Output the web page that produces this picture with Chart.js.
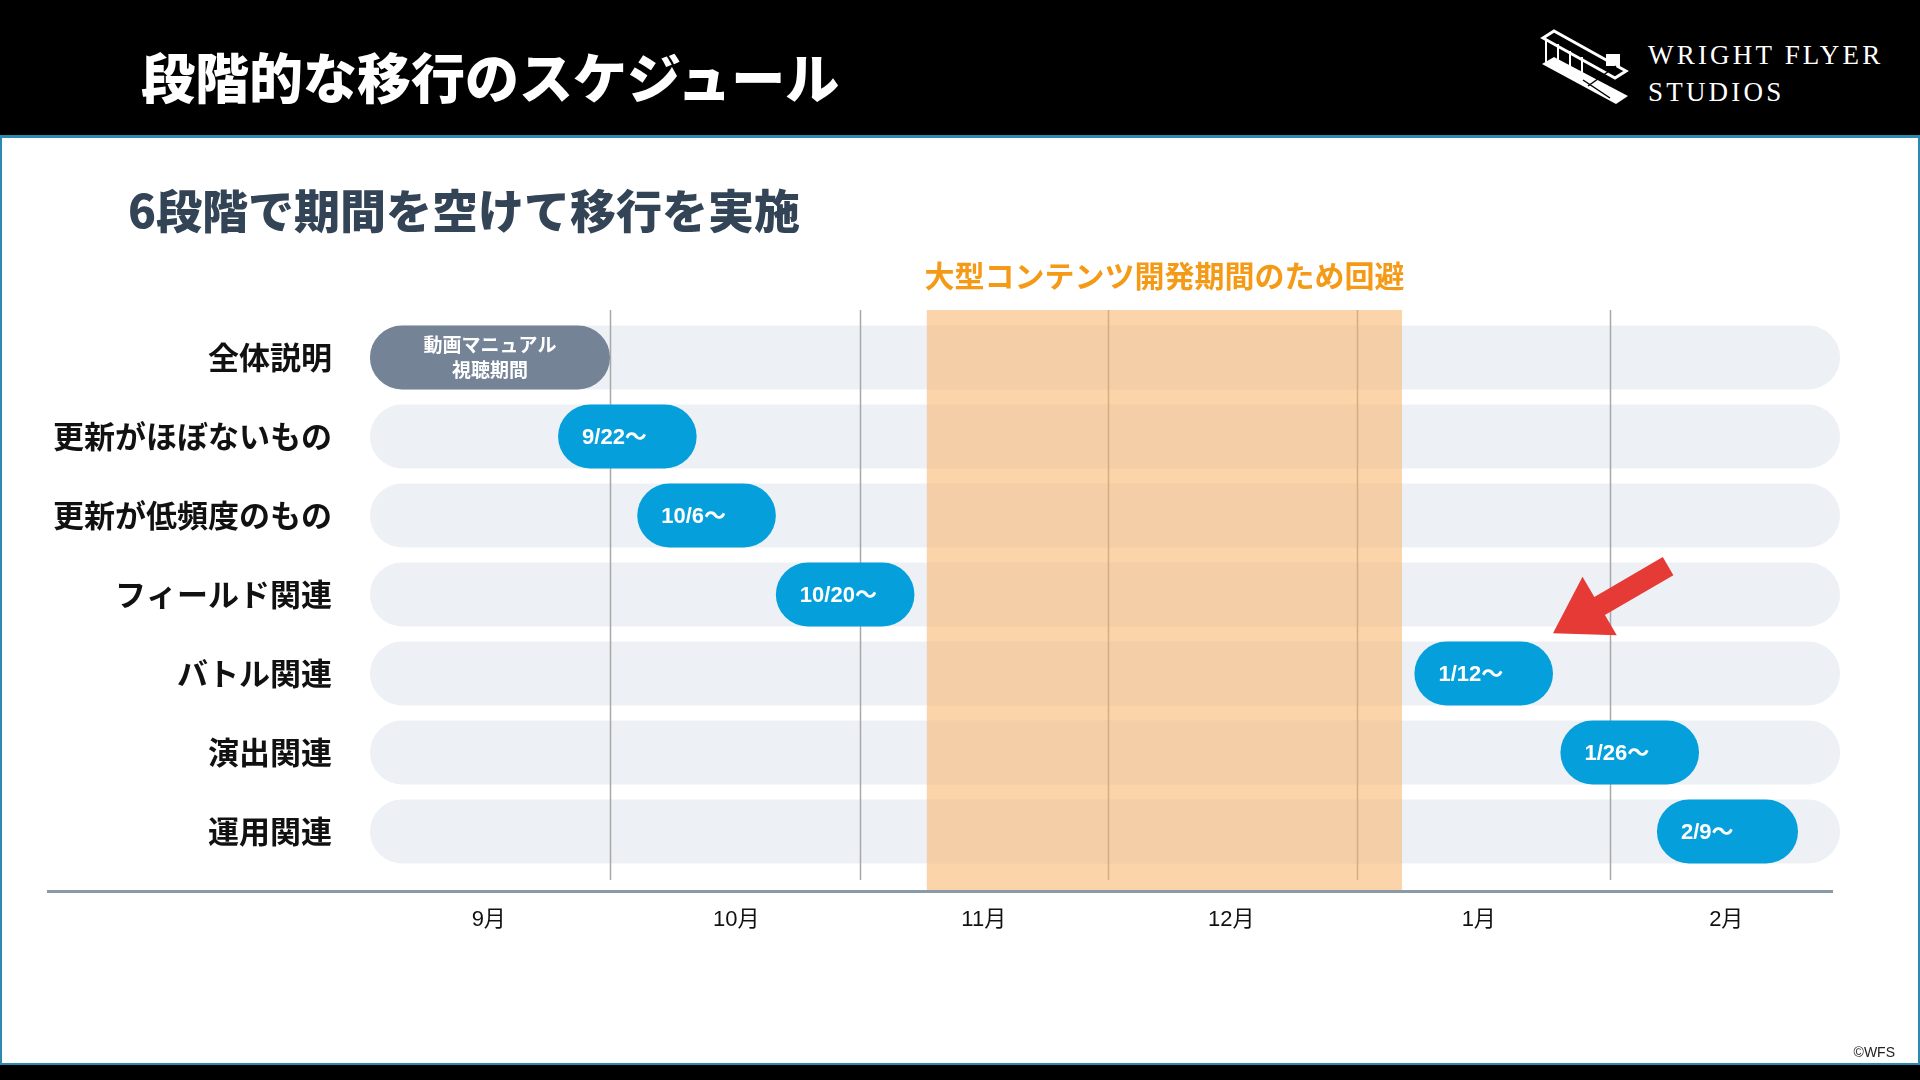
<!DOCTYPE html>
<html><head><meta charset="utf-8">
<script src="https://cdn.jsdelivr.net/npm/chart.js@4.4.1/dist/chart.umd.min.js"></script>
<style>
html,body{margin:0;padding:0;background:#fff;}
body{width:1920px;height:1080px;position:relative;overflow:hidden;font-family:"Noto Sans CJK JP",sans-serif;}
#c{position:absolute;left:0;top:0;z-index:0;}
#header{position:absolute;left:0;top:0;width:1920px;height:135px;background:#000;border-bottom:3px solid #2b8ab0;z-index:2;}
#title{position:absolute;left:141px;top:46px;color:#fff;font-weight:900;font-size:54px;line-height:60px;white-space:nowrap;letter-spacing:0px;}
#frame{position:absolute;left:0;top:138px;width:1920px;height:925px;box-sizing:border-box;border-left:2px solid #2b8ab0;border-right:2px solid #2b8ab0;z-index:1;pointer-events:none;}
#footer{position:absolute;left:0;top:1063px;width:1920px;height:17px;box-sizing:border-box;background:#000;border-top:2px solid #2b8ab0;z-index:2;}
#subtitle{position:absolute;left:128px;top:180px;color:#334456;font-weight:900;font-size:46px;line-height:56px;white-space:nowrap;z-index:2;}
#copy{position:absolute;right:25px;top:1043px;font-family:"Liberation Sans",Arial,sans-serif;font-size:14px;line-height:18px;color:#222;z-index:2;}
.logo{position:absolute;color:#fff;font-family:"Liberation Serif","DejaVu Serif",serif;font-size:27px;letter-spacing:3.2px;line-height:27px;white-space:nowrap;}
</style></head>
<body>
<canvas id="c" width="1920" height="1080"></canvas>
<div id="header">
  <div id="title">段階的な移行のスケジュール</div>
  <svg style="position:absolute;left:1538px;top:26px" width="96" height="80" viewBox="0 0 96 80">
    <polygon points="5,12 16,5 88,45 77,52" fill="none" stroke="#fff" stroke-width="3"/>
    <polygon points="4,38 16,31 90,70 78,78" fill="#fff"/>
    <line x1="8" y1="14" x2="8" y2="38" stroke="#fff" stroke-width="2"/>
    <line x1="20" y1="18" x2="20" y2="44" stroke="#fff" stroke-width="2"/>
    <line x1="32" y1="25" x2="32" y2="50" stroke="#fff" stroke-width="2"/>
    <line x1="44" y1="31" x2="44" y2="57" stroke="#fff" stroke-width="2"/>
    <rect x="68" y="28" width="14" height="12" fill="#fff"/>
    <line x1="50" y1="60" x2="78" y2="40" stroke="#000" stroke-width="1.5"/>
    <line x1="45" y1="54" x2="72" y2="72" stroke="#000" stroke-width="1.5"/>
  </svg>
  <div class="logo" style="left:1648px;top:42px;">WRIGHT FLYER</div>
  <div class="logo" style="left:1648px;top:79px;">STUDIOS</div>
</div>
<div id="frame"></div>
<div id="subtitle">6段階で期間を空けて移行を実施</div>
<div id="copy">©WFS</div>
<div id="footer"></div>
<script>
// ---- data ----
const categories = ['全体説明','更新がほぼないもの','更新が低頻度のもの','フィールド関連','バトル関連','演出関連','運用関連'];
// x unit: months counted from the start of September (0 = 9月初, 6 = 2月末)
const phaseStart = [0.02, 0.78, 1.10, 1.66, 4.24, 4.83, 5.22];
const phaseEnd   = [0.99, 1.34, 1.66, 2.22, 4.80, 5.39, 5.79];
const phaseLabels = [['動画マニュアル','視聴期間'], '9/22〜', '10/6〜', '10/20〜', '1/12〜', '1/26〜', '2/9〜'];
const trackRange = [0.02, 5.96];
const monthLabels = ['9月','10月','11月','12月','1月','2月'];
const monthTicks = [0.5, 1.5, 2.5, 3.5, 4.5, 5.5];
const monthDividers = [0.99, 2.0, 3.0, 4.01, 5.03];
const avoidRange = [2.27, 4.19];
const avoidLabel = '大型コンテンツ開発期間のため回避';
const arrowTail = [5.265, 2.64];
const arrowTip = [4.80, 3.49];

const JP = '"Noto Sans CJK JP", sans-serif';
const LAT = '"Liberation Sans", Arial, "Noto Sans CJK JP", sans-serif';

const deco = {
  id: 'deco',
  afterDatasetDraw(chart, args) {
    if (args.index !== 0) return;
    const {ctx, chartArea: a, scales: {x}} = chart;
    ctx.save();
    ctx.strokeStyle = '#a8a8a8';
    ctx.lineWidth = 1.5;
    monthDividers.forEach(v => {
      const px = Math.round(x.getPixelForValue(v)) + 0.5;
      ctx.beginPath(); ctx.moveTo(px, a.top - 8); ctx.lineTo(px, a.bottom + 9); ctx.stroke();
    });
    const x0 = x.getPixelForValue(avoidRange[0]), x1 = x.getPixelForValue(avoidRange[1]);
    ctx.fillStyle = 'rgba(248,176,100,0.55)';
    ctx.fillRect(x0, a.top - 8, x1 - x0, (a.bottom + 19) - (a.top - 8));
    ctx.restore();
  },
  afterDatasetsDraw(chart) {
    const {ctx, chartArea: a, scales: {x, y}} = chart;
    ctx.save();
    // axis line
    ctx.strokeStyle = '#8a9aa6';
    ctx.lineWidth = 3;
    ctx.beginPath(); ctx.moveTo(47, a.bottom + 20.5); ctx.lineTo(1833, a.bottom + 20.5); ctx.stroke();
    // avoid label
    const x0 = x.getPixelForValue(avoidRange[0]), x1 = x.getPixelForValue(avoidRange[1]);
    ctx.fillStyle = '#f49a16';
    ctx.font = 'bold 30px ' + JP;
    ctx.textAlign = 'center'; ctx.textBaseline = 'middle';
    ctx.fillText(avoidLabel, (x0 + x1) / 2, a.top - 42);
    // bar labels
    const meta = chart.getDatasetMeta(1);
    meta.data.forEach((bar, i) => {
      const p = bar.getProps(['x', 'base', 'y'], true);
      const l = Math.min(p.x, p.base), r = Math.max(p.x, p.base);
      const lab = phaseLabels[i];
      ctx.fillStyle = '#fff';
      if (Array.isArray(lab)) {
        ctx.font = 'bold 19px ' + JP;
        ctx.textAlign = 'center';
        ctx.fillText(lab[0], (l + r) / 2, p.y - 12.5);
        ctx.fillText(lab[1], (l + r) / 2, p.y + 12.5);
      } else {
        ctx.font = 'bold 22px ' + LAT;
        ctx.textAlign = 'left';
        ctx.fillText(lab, l + 24, p.y + 1);
      }
    });
    // arrow
    const tx = x.getPixelForValue(arrowTip[0]), ty = y.getPixelForValue(arrowTip[1]);
    const sx = x.getPixelForValue(arrowTail[0]), sy = y.getPixelForValue(arrowTail[1]);
    const dx = tx - sx, dy = ty - sy, L = Math.hypot(dx, dy);
    const ux = dx / L, uy = dy / L, nx = -uy, ny = ux;
    const headLen = 54, headW = 34, shaftW = 10.5;
    const bx = tx - ux * headLen, by = ty - uy * headLen;
    ctx.fillStyle = '#e53a35';
    ctx.beginPath();
    ctx.moveTo(sx + nx * shaftW, sy + ny * shaftW);
    ctx.lineTo(bx + nx * shaftW, by + ny * shaftW);
    ctx.lineTo(bx + nx * headW, by + ny * headW);
    ctx.lineTo(tx, ty);
    ctx.lineTo(bx - nx * headW, by - ny * headW);
    ctx.lineTo(bx - nx * shaftW, by - ny * shaftW);
    ctx.lineTo(sx - nx * shaftW, sy - ny * shaftW);
    ctx.closePath();
    ctx.fill();
    ctx.restore();
  }
};

const chart = new Chart(document.getElementById('c'), {
  type: 'bar',
  data: {
    labels: categories,
    datasets: [
      {
        data: categories.map(() => trackRange.slice()),
        backgroundColor: '#edf1f5',
        borderRadius: 40, borderSkipped: false,
        grouped: false, order: 2,
        categoryPercentage: 1, barPercentage: 0.81
      },
      {
        data: phaseStart.map((s, i) => [s, phaseEnd[i]]),
        backgroundColor: ctx => ctx.dataIndex === 0 ? '#758396' : '#05a0dc',
        borderRadius: 40, borderSkipped: false,
        grouped: false, order: 1,
        categoryPercentage: 1, barPercentage: 0.81
      }
    ]
  },
  options: {
    indexAxis: 'y',
    responsive: false,
    devicePixelRatio: 1,
    animation: false,
    layout: {padding: {top: 318, right: 70, left: 0, bottom: 0}},
    plugins: {legend: {display: false}, tooltip: {enabled: false}},
    scales: {
      x: {
        type: 'linear', min: 0, max: 6,
        grid: {display: false, drawTicks: false},
        border: {display: false},
        afterBuildTicks(s) { s.ticks = monthTicks.map(v => ({value: v})); },
        afterFit(s) { s.height = 209; },
        ticks: {
          callback: (v, i) => monthLabels[i],
          font: {family: LAT, size: 22},
          color: '#111', padding: 36, autoSkip: false, maxRotation: 0
        }
      },
      y: {
        grid: {display: false, drawTicks: false},
        border: {display: false},
        afterFit(s) { s.width = 365; },
        ticks: {font: {family: JP, size: 31, weight: 'bold'}, color: '#111', padding: 33}
      }
    }
  },
  plugins: [deco]
});
if (document.fonts && document.fonts.ready) document.fonts.ready.then(() => chart.update());
</script>
</body></html>
